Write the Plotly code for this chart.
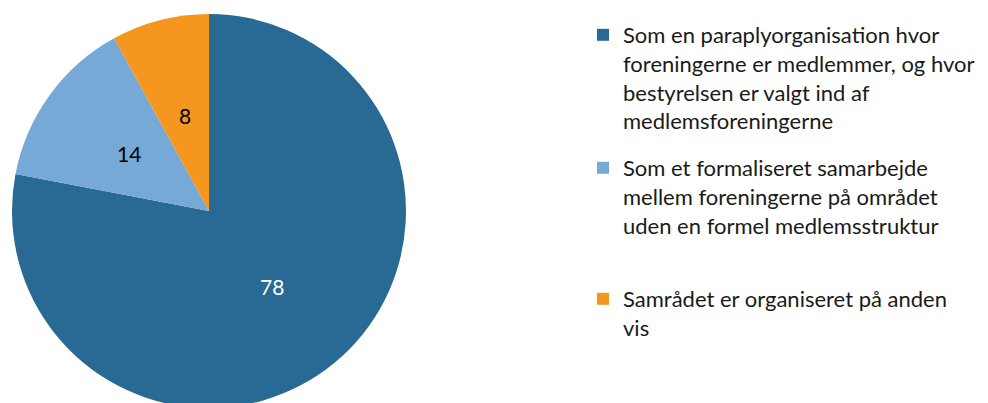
import math
import plotly.graph_objects as go

labels = [
    "Som en paraplyorganisation hvor<br>foreningerne er medlemmer, og hvor<br>bestyrelsen er valgt ind af<br>medlemsforeningerne",
    "Som et formaliseret samarbejde<br>mellem foreningerne på området<br>uden en formel medlemsstruktur",
    "Samrådet er organiseret på anden<br>vis",
]
values = [78, 14, 8]
colors = ["#286A93", "#76A9D5", "#F5961F"]
text_colors = ["white", "black", "black"]

W, H = 988, 403
FONT = "Lato"
MT, MB = 6, 3
PH = H - MT - MB          # plot-area height
R = PH / 2                # pie radius in px
CX = 201                  # pie centre x in px
CY = MT + R               # pie centre y in px
DOM_X = [(CX - R) / W, (CX + R) / W]

fig = go.Figure()
fig.add_trace(go.Pie(
    labels=labels,
    values=values,
    sort=False,
    direction="clockwise",
    rotation=0,
    marker=dict(colors=colors, line=dict(width=0)),
    textinfo="none",
    domain=dict(x=DOM_X, y=[0, 1]),
    hoverinfo="label+value",
    showlegend=False,
))

# value labels at half radius, on each slice's mid-angle
total = sum(values)
cum = 0
for v, tc in zip(values, text_colors):
    theta = 2 * math.pi * (cum + v / 2) / total
    cum += v
    px = CX + 0.5 * R * math.sin(theta)
    py = CY - 0.5 * R * math.cos(theta)
    fig.add_annotation(
        x=px / W, y=1 - (py - MT) / PH, xref="paper", yref="paper",
        text=str(v), showarrow=False,
        font=dict(size=21, color=tc, family=FONT),
        xanchor="center", yanchor="middle",
    )

# legend entries (one legend per slice so each can be placed)
legend_tops = [6, 139, 270]
leg_names = ["legend", "legend2", "legend3"]
for lab, col, ln in zip(labels, colors, leg_names):
    fig.add_trace(go.Scatter(
        x=[None], y=[None], mode="markers", name=lab,
        marker=dict(symbol="square", size=13, color=col),
        legend=ln, showlegend=True, hoverinfo="skip",
    ))

layout_legends = {}
for ln, top in zip(leg_names, legend_tops):
    layout_legends[ln] = dict(
        x=575 / W, y=1 - (top - MT) / PH,
        xanchor="left", yanchor="top",
        valign="top",
        font=dict(size=22, family=FONT, color="#1a1a1a"),
        itemsizing="constant",
        bgcolor="rgba(0,0,0,0)",
    )

fig.update_layout(
    width=W, height=H,
    margin=dict(l=0, r=0, t=MT, b=MB, autoexpand=False),
    paper_bgcolor="white",
    plot_bgcolor="white",
    font=dict(family=FONT, size=22, color="#1a1a1a"),
    xaxis=dict(visible=False),
    yaxis=dict(visible=False),
    showlegend=True,
    **layout_legends,
)

fig.write_html("out.html")
